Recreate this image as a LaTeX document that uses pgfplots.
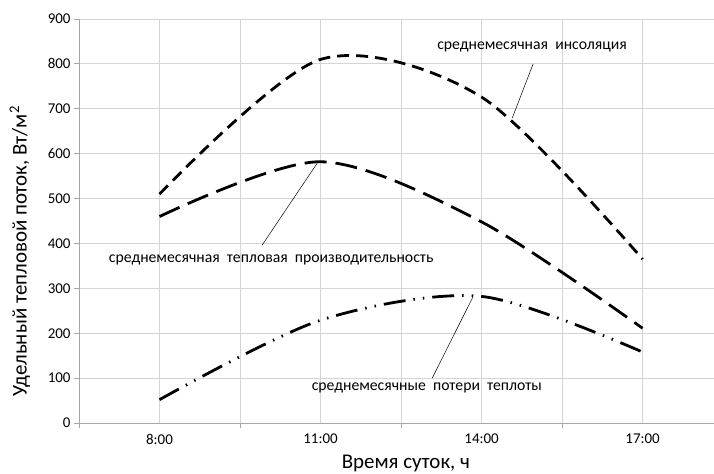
\documentclass[border=0pt]{standalone}
\usepackage{pgfplots}
\pgfplotsset{compat=1.18}
\usepackage{fontspec}
\setmainfont{Carlito}
\definecolor{gridc}{HTML}{D4D4D4}
\definecolor{axc}{HTML}{A6A6A6}
\begin{document}
\begin{tikzpicture}
\useasboundingbox (-79bp,-51bp) rectangle (635bp,423bp);
\begin{axis}[
  width=635bp, height=404bp, scale only axis,
  xmin=6.5, xmax=18.33, ymin=0, ymax=900,
  axis lines=left, axis line style={axc, line width=0.8pt, -},
  xtick={8,9.5,11,12.5,14,15.5,17},
  xticklabels={8:00,,11:00,,14:00,,17:00},
  ytick={0,100,...,900},
  major x tick style={draw=none},
  extra x ticks={6.5,9.5,12.5,15.5},
  extra x tick labels={},
  extra x tick style={grid=none, major tick length=5bp, xtick align=outside,
    major x tick style={draw=axc, line width=0.8pt}},
  ytick align=outside, major tick length=5bp,
  y tick style={axc, line width=0.8pt},
  grid=major, grid style={gridc, line width=0.8pt},
  tick label style={font=\fontsize{15}{16}\selectfont, text=black},
  /pgf/number format/assume math mode=true,
  xticklabel style={yshift=-5bp},
  clip=false,
]
% среднемесячная инсоляция
\addplot[black, line width=2.8bp, smooth, dash pattern=on 12bp off 7bp]
  coordinates {(8,510) (11,810) (14,726) (17,365)};
% среднемесячная тепловая производительность
\addplot[black, line width=2.8bp, smooth, dash pattern=on 22bp off 9bp]
  coordinates {(8,460) (11,582) (14,448) (17,211)};
% среднемесячные потери теплоты
\addplot[black, line width=2.8bp, smooth,
  dash pattern=on 22bp off 8bp on 1.5bp off 8bp on 1.5bp off 8bp]
  coordinates {(8,52) (11,229) (14,282) (17,158)};
% подписи
\draw[black, line width=0.5pt] (axis cs:14.96,800) -- (axis cs:14.57,679);
\draw[black, line width=0.5pt] (axis cs:9.91,396) -- (axis cs:10.95,581);
\draw[black, line width=0.5pt] (axis cs:13.08,100) -- (axis cs:13.84,281);
\node[font=\fontsize{15.8}{17}\selectfont] at (axis cs:14.94,837) {среднемесячная\ \ инсоляция};
\node[font=\fontsize{15.8}{17}\selectfont] at (axis cs:10.08,363) {среднемесячная\ \ тепловая\ \ производительность};
\node[font=\fontsize{15.8}{17}\selectfont] at (axis cs:12.98,78) {среднемесячные\ \ потери\ \ теплоты};
% оси
\node[font=\fontsize{21}{23}\selectfont, anchor=base] at (axis cs:12.59,-102) {Время суток, ч};
\node[font=\fontsize{21}{23}\selectfont, rotate=90] at (axis cs:5.40,383) {Удельный тепловой поток, Вт/м\textsuperscript{2}};
\end{axis}
\end{tikzpicture}
\end{document}
